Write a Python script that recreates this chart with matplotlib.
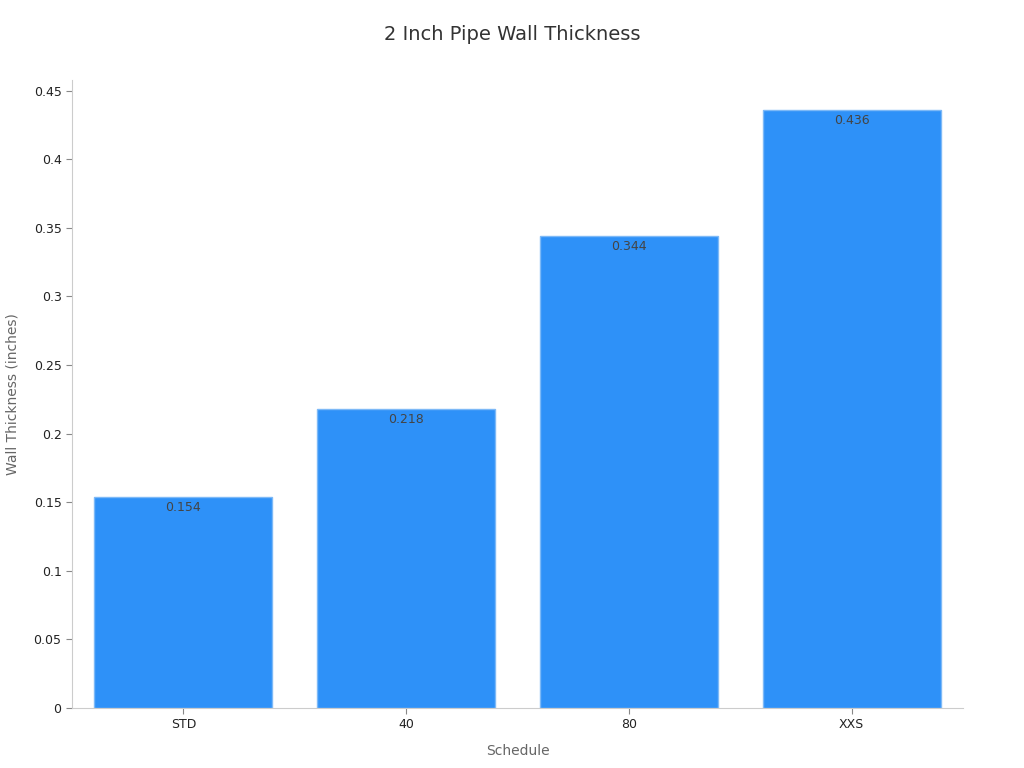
import matplotlib
matplotlib.use("Agg")
import matplotlib.pyplot as plt

categories = ["STD", "40", "80", "XXS"]
values = [0.154, 0.218, 0.344, 0.436]

plt.rcParams['font.family'] = ['DejaVu Sans']
fig = plt.figure(figsize=(10.24, 7.68), dpi=100)
ax = fig.add_axes([72/1024, 60/768, (963-72)/1024, (708-80)/768])

x = list(range(len(categories)))
bars = ax.bar(x, values, width=0.8, color="#2E91F8", edgecolor="#7DB9F7", linewidth=1)
for xi, v in zip(x, values):
    ax.text(xi, v - 0.003, f"{v:g}", ha="center", va="top", fontsize=9, color="#444444")

ax.set_xlim(-0.5, 3.5)
ax.set_ylim(0, 0.4578)
ax.set_yticks([0, 0.05, 0.1, 0.15, 0.2, 0.25, 0.3, 0.35, 0.4, 0.45])
ax.set_yticklabels(["0", "0.05", "0.1", "0.15", "0.2", "0.25", "0.3", "0.35", "0.4", "0.45"])
ax.set_xticks(x)
ax.set_xticklabels(categories)
ax.tick_params(axis="both", labelsize=9, colors="#222222", length=4)
ax.tick_params(axis="both", color="#888888")
for s in ["top", "right"]:
    ax.spines[s].set_visible(False)
for s in ["left", "bottom"]:
    ax.spines[s].set_color("#CCCCCC")
ax.set_xlabel("Schedule", fontsize=10, color="#666666", labelpad=9)
ax.set_ylabel("Wall Thickness (inches)", fontsize=10, color="#666666", labelpad=10)
fig.suptitle("2 Inch Pipe Wall Thickness", fontsize=14, color="#333333", y=0.968)

fig.savefig("out.png", dpi=100)
